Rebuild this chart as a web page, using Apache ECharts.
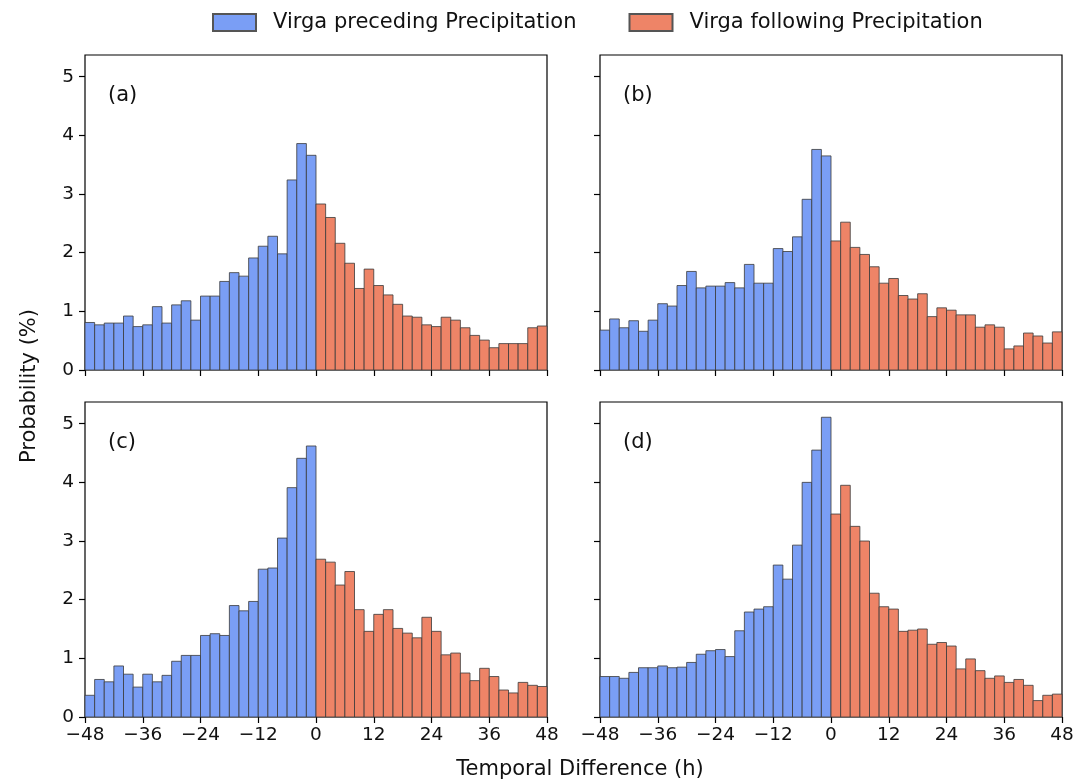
<!DOCTYPE html>
<html>
<head>
<meta charset="utf-8">
<title>Virga histograms</title>
<script src="https://cdn.jsdelivr.net/npm/echarts@6/dist/echarts.min.js"></script>
<style>
  html, body { margin: 0; padding: 0; background: #fff; }
  #main { width: 1088px; height: 784px; }
</style>
</head>
<body>
<div id="main"></div>
<script>
// bins: 2 h wide, from -48 to 0 (preceding) and 0 to 48 (following)
let binStart = -48
let binWidth = 2
let xTicks = [-48, -36, -24, -12, 0, 12, 24, 36, 48]
let yTicks = [0, 1, 2, 3, 4, 5]
let panelNames = ["(a)", "(b)", "(c)", "(d)"]

// probability (%) per bin
let precA = [0.81, 0.77, 0.80, 0.80, 0.92, 0.74, 0.77, 1.08, 0.80, 1.11, 1.18, 0.85,
             1.26, 1.26, 1.51, 1.66, 1.60, 1.91, 2.11, 2.28, 1.98, 3.24, 3.86, 3.66]
let follA = [2.83, 2.60, 2.16, 1.82, 1.39, 1.72, 1.44, 1.28, 1.12, 0.92, 0.90, 0.77,
             0.74, 0.90, 0.85, 0.72, 0.59, 0.51, 0.38, 0.45, 0.45, 0.45, 0.72, 0.75]
let precB = [0.68, 0.87, 0.72, 0.84, 0.66, 0.85, 1.13, 1.09, 1.44, 1.68, 1.40, 1.43,
             1.43, 1.49, 1.40, 1.80, 1.48, 1.48, 2.07, 2.02, 2.27, 2.91, 3.76, 3.65]
let follB = [2.20, 2.52, 2.09, 1.97, 1.76, 1.48, 1.56, 1.27, 1.21, 1.30, 0.91, 1.06,
             1.02, 0.94, 0.94, 0.73, 0.77, 0.73, 0.36, 0.41, 0.63, 0.58, 0.46, 0.65]
let precC = [0.37, 0.64, 0.60, 0.87, 0.73, 0.51, 0.73, 0.60, 0.71, 0.95, 1.05, 1.05,
             1.39, 1.42, 1.39, 1.90, 1.81, 1.97, 2.52, 2.54, 3.05, 3.91, 4.41, 4.62]
let follC = [2.69, 2.64, 2.25, 2.48, 1.83, 1.46, 1.75, 1.83, 1.51, 1.43, 1.35, 1.70,
             1.46, 1.06, 1.09, 0.75, 0.62, 0.83, 0.69, 0.46, 0.41, 0.59, 0.54, 0.52]
let precD = [0.69, 0.69, 0.66, 0.76, 0.84, 0.84, 0.87, 0.84, 0.85, 0.93, 1.07, 1.13,
             1.15, 1.03, 1.47, 1.79, 1.84, 1.88, 2.59, 2.35, 2.93, 4.00, 4.55, 5.11]
let follD = [3.46, 3.95, 3.25, 3.00, 2.11, 1.88, 1.84, 1.46, 1.48, 1.50, 1.24, 1.27,
             1.21, 0.82, 0.99, 0.79, 0.66, 0.70, 0.59, 0.64, 0.54, 0.28, 0.37, 0.39]

let precList = [precA, precB, precC, precD]
let follList = [follA, follB, follC, follD]

let blue = "#7a9ef5"
let red = "#ee8467"
let font = "DejaVu Sans"

// [left edge, right edge, value]
function toBins(vals, start){
    return vals.map(function(v, i){
        return [start + i * binWidth, start + (i + 1) * binWidth, v]
    })
}

function renderBar(params, api){
    let p0 = api.coord([api.value(0), api.value(2)])
    let p1 = api.coord([api.value(1), 0])
    return {
        type: "rect",
        shape: { x: p0[0], y: p0[1], width: p1[0] - p0[0], height: p1[1] - p0[1] },
        style: api.style({ stroke: "#3a3a3a", lineWidth: 0.8 })
    }
}

let lefts = [85, 600, 85, 600]
let tops = [55, 55, 402, 402]

let grids = [], xAxes = [], yAxes = [], series = [], texts = []
for (let i = 0; i < 4; i++) {
    grids.push({
        left: lefts[i], top: tops[i], width: 462, height: 315,
        show: true, borderColor: "#000", borderWidth: 1.2, backgroundColor: "transparent"
    })
    xAxes.push({
        type: "value", gridIndex: i, min: -48, max: 48, interval: 12,
        axisLine: { show: false, onZero: false },
        splitLine: { show: false },
        axisTick: { show: true, length: 6, customValues: xTicks, lineStyle: { color: "#000", width: 1.2 } },
        axisLabel: {
            show: i >= 2, customValues: xTicks, margin: 9,
            fontFamily: font, fontSize: 18.5, color: "#111",
            formatter: function(v){ return v < 0 ? "\u2212" + Math.abs(v) : String(v) }
        }
    })
    yAxes.push({
        type: "value", gridIndex: i, min: 0, max: 5.37,
        axisLine: { show: false, onZero: false },
        splitLine: { show: false },
        axisTick: { show: true, length: 6, customValues: yTicks, lineStyle: { color: "#000", width: 1.2 } },
        axisLabel: {
            show: i % 2 == 0, customValues: yTicks, margin: 11,
            fontFamily: font, fontSize: 18.5, color: "#111"
        }
    })
    series.push({
        name: "Virga preceding Precipitation", type: "custom",
        xAxisIndex: i, yAxisIndex: i, renderItem: renderBar,
        itemStyle: { color: blue, borderColor: "#555", borderWidth: 0.8 },
        encode: { x: [0, 1], y: 2 },
        data: toBins(precList[i], binStart)
    })
    series.push({
        name: "Virga following Precipitation", type: "custom",
        xAxisIndex: i, yAxisIndex: i, renderItem: renderBar,
        itemStyle: { color: red, borderColor: "#555", borderWidth: 0.8 },
        encode: { x: [0, 1], y: 2 },
        data: toBins(follList[i], 0)
    })
    texts.push({
        type: "text", left: lefts[i] + 23, top: tops[i] + 30,
        style: { text: panelNames[i], font: "21px '" + font + "'", fill: "#111" }
    })
}

texts.push({
    type: "text", x: 30, y: 386, rotation: Math.PI / 2,
    style: { text: "Probability (%)", font: "21px '" + font + "'", fill: "#111", align: "center", verticalAlign: "middle" }
})
texts.push({
    type: "text", x: 580, y: 770,
    style: { text: "Temporal Difference (h)", font: "21px '" + font + "'", fill: "#111", align: "center", verticalAlign: "middle" }
})

let myChart = echarts.init(document.getElementById("main"), null, { renderer: "canvas" })
myChart.setOption({
    animation: false,
    backgroundColor: "#fff",
    legend: {
        top: 12, left: 212, padding: 0,
        itemWidth: 43, itemHeight: 17, itemGap: 52,
        icon: "rect",
        textStyle: { fontFamily: font, fontSize: 21, color: "#111", padding: [0, 0, 0, 12] },
        data: ["Virga preceding Precipitation", "Virga following Precipitation"]
    },
    grid: grids,
    xAxis: xAxes,
    yAxis: yAxes,
    series: series,
    graphic: texts
})
</script>
</body>
</html>
